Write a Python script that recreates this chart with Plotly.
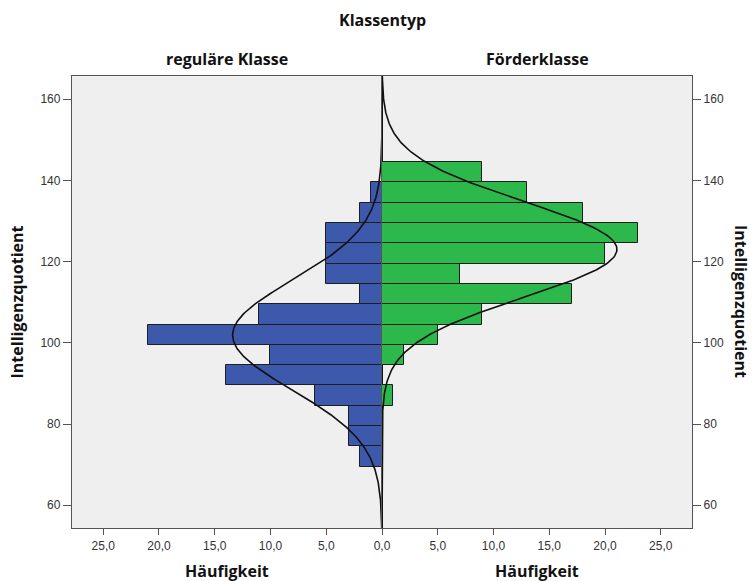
import numpy as np
import plotly.graph_objects as go

# ---- data ----
bin_centers = [72, 77, 82, 87, 92, 97, 102, 107, 112, 117, 122, 127, 132, 137, 142]
regular_counts = [2, 3, 3, 6, 14, 10, 21, 11, 2, 5, 5, 5, 2, 1, 0]
foerder_counts = [0, 0, 0, 1, 0, 2, 5, 9, 17, 7, 20, 23, 18, 13, 9]
bin_width = 5
regular_mean, regular_sd = 101.9, 13.4
foerder_mean, foerder_sd = 123.0, 11.74
y_ticks = [60, 80, 100, 120, 140, 160]
x_ticks = [0, 5, 10, 15, 20, 25]
group_labels = ["reguläre Klasse", "Förderklasse"]

y_range = [54.4, 165.7]
x_max = 27.8


def nz(vals):
    return [v if v > 0 else None for v in vals]


def normal_curve(n, mean, sd):
    ys = np.linspace(y_range[0], y_range[1], 400)
    dens = n * bin_width / (sd * np.sqrt(2 * np.pi)) * np.exp(-0.5 * ((ys - mean) / sd) ** 2)
    return dens, ys


fig = go.Figure()
edge = dict(color="#1e1e1e", width=1)
fig.add_trace(go.Bar(y=bin_centers, x=nz(regular_counts), orientation="h", width=bin_width,
                     marker=dict(color="#3D59AB", line=edge), xaxis="x", yaxis="y",
                     showlegend=False, hoverinfo="skip"))
fig.add_trace(go.Bar(y=bin_centers, x=nz(foerder_counts), orientation="h", width=bin_width,
                     marker=dict(color="#2DB84B", line=edge), xaxis="x2", yaxis="y2",
                     showlegend=False, hoverinfo="skip"))

cx, cy = normal_curve(sum(regular_counts), regular_mean, regular_sd)
fig.add_trace(go.Scatter(x=cx, y=cy, mode="lines", line=dict(color="#111", width=1.6),
                         xaxis="x", yaxis="y", showlegend=False, hoverinfo="skip"))
cx2, cy2 = normal_curve(sum(foerder_counts), foerder_mean, foerder_sd)
fig.add_trace(go.Scatter(x=cx2, y=cy2, mode="lines", line=dict(color="#111", width=1.6),
                         xaxis="x2", yaxis="y2", showlegend=False, hoverinfo="skip"))

tickfont = dict(family="Liberation Sans, Arial, sans-serif", size=12, color="#333")
axis_common = dict(showgrid=False, showline=True, linecolor="#555", linewidth=1.3, mirror=True,
                   ticks="outside", tickcolor="#555", tickwidth=1.3, tickfont=tickfont)

fig.update_layout(
    width=752, height=581,
    margin=dict(l=72, r=60, t=76, b=53),
    paper_bgcolor="white", plot_bgcolor="#EFEFEF",
    separators=",.",
    bargap=0,
    xaxis=dict(domain=[0, 0.5], range=[x_max, 0], tickvals=x_ticks, tickformat=".1f",
               ticklen=6, anchor="y", zeroline=True, zerolinecolor="#111", zerolinewidth=1.3,
               **axis_common),
    xaxis2=dict(domain=[0.5, 1], range=[0, x_max], tickvals=x_ticks[1:], tickformat=".1f",
                ticklen=6, anchor="y2", zeroline=True, zerolinecolor="#111", zerolinewidth=1.3,
                **axis_common),
    yaxis=dict(range=y_range, tickvals=y_ticks, ticklen=8, anchor="x", side="left",
               zeroline=False, **axis_common),
    yaxis2=dict(range=y_range, tickvals=y_ticks, ticklen=8, anchor="x2", side="right",
                matches="y", zeroline=False, **axis_common),
)

title_font = dict(family="Open Sans, sans-serif", size=16, color="#111")
ann = [
    dict(text="<b>Klassentyp</b>", x=0.5, y=1.124),
    dict(text="<b>" + group_labels[0] + "</b>", x=0.25, y=1.038),
    dict(text="<b>" + group_labels[1] + "</b>", x=0.75, y=1.038),
    dict(text="<b>Häufigkeit</b>", x=0.25, y=-0.095),
    dict(text="<b>Häufigkeit</b>", x=0.75, y=-0.095),
    dict(text="<b>Intelligenzquotient</b>", x=-0.088, y=0.5, textangle=-90),
    dict(text="<b>Intelligenzquotient</b>", x=1.079, y=0.5, textangle=90),
]
for a in ann:
    fig.add_annotation(xref="paper", yref="paper", showarrow=False, font=title_font,
                       xanchor="center", yanchor="middle", **a)

fig.write_html("out.html", config={"displayModeBar": False},
               post_script="document.body.style.margin='0px';document.body.style.overflow='hidden';")
